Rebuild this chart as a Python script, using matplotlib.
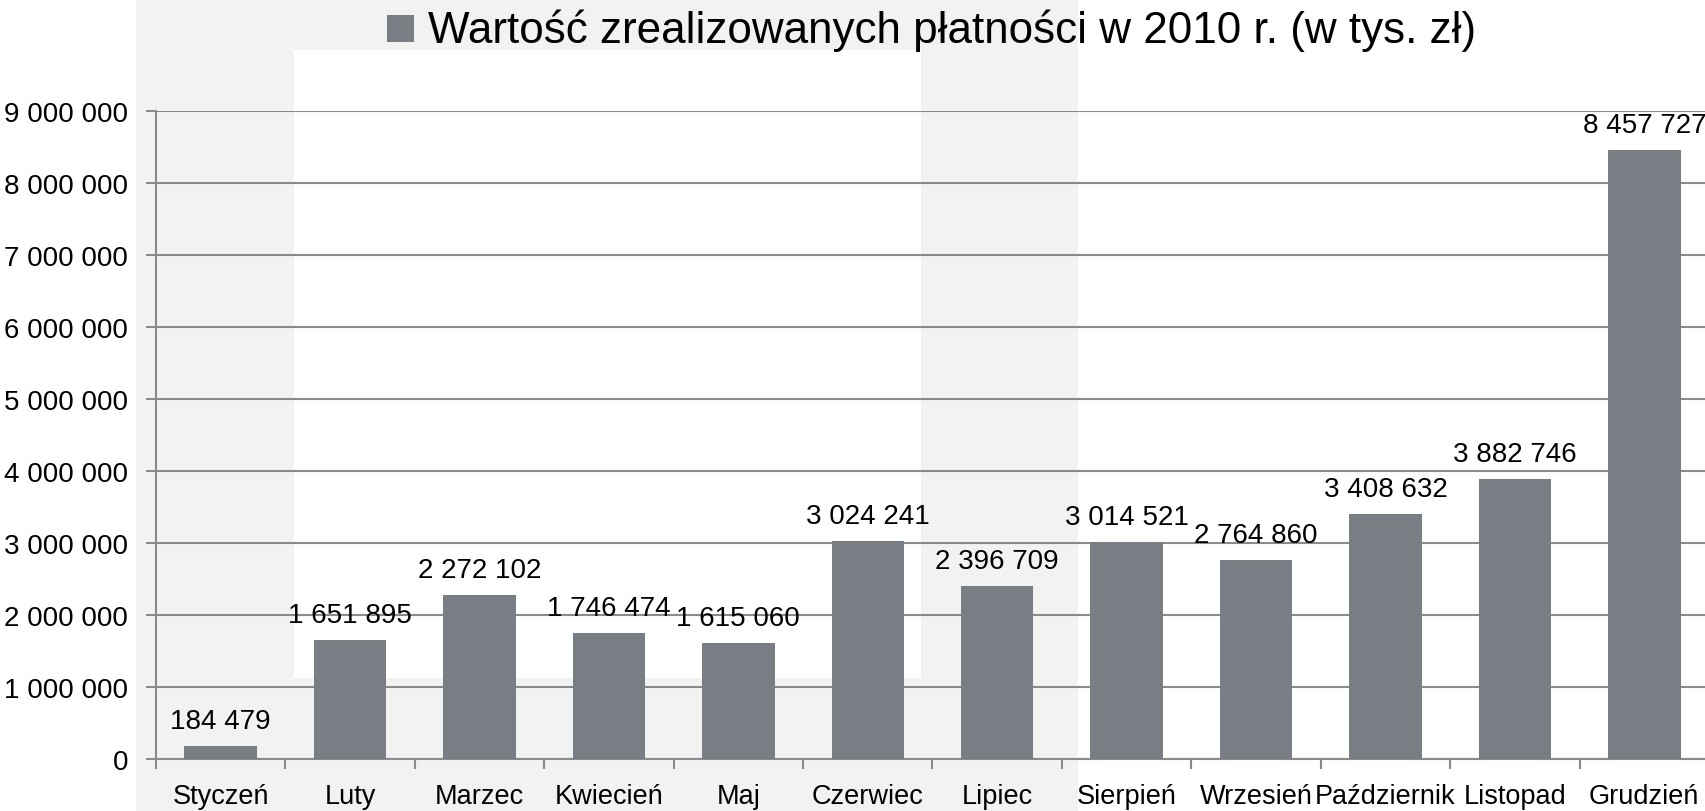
import matplotlib
matplotlib.use("Agg")
import matplotlib.pyplot as plt
from matplotlib.patches import Rectangle
import numpy as np

months = ["Styczeń", "Luty", "Marzec", "Kwiecień", "Maj", "Czerwiec", "Lipiec",
          "Sierpień", "Wrzesień", "Październik", "Listopad", "Grudzień"]
values = [184479, 1651895, 2272102, 1746474, 1615060, 3024241, 2396709,
          3014521, 2764860, 3408632, 3882746, 8457727]
yticks = [0, 1000000, 2000000, 3000000, 4000000, 5000000, 6000000, 7000000, 8000000, 9000000]
title = "Wartość zrealizowanych płatności w 2010 r. (w tys. zł)"

W, H = 1706, 812
plt.rcParams['font.family'] = ['Liberation Sans', 'DejaVu Sans']

fig = plt.figure(figsize=(W / 100, H / 100), dpi=100)
fig.patch.set_facecolor("white")


def px_rect(x0, y0, x1, y1, color, z=-10):
    # rectangle given in pixel coords (top-left origin)
    fig.add_artist(Rectangle((x0 / W, 1 - y1 / H), (x1 - x0) / W, (y1 - y0) / H,
                             transform=fig.transFigure, facecolor=color,
                             edgecolor="none", zorder=z))


# odd background blocks from the source document
px_rect(136, 0, 1078, H, "#f2f2f2")
px_rect(294, 51, 921, 679, "white")

left, right, bottom, top = 156, 1709, 760, 112
ax = fig.add_axes([left / W, 1 - bottom / H, (right - left) / W, (bottom - top) / H])
ax.set_facecolor("none")

x = np.arange(len(months))
bar_color = "#797e85"
ax.bar(x, values, width=0.56, color=bar_color, zorder=3)

for xi, v in zip(x, values):
    lab = "{:,}".format(v).replace(",", " ")
    ax.annotate(lab, (xi, v), xytext=(0, 13), textcoords="offset points",
                ha="center", va="baseline", fontsize=20, color="black",
                annotation_clip=False)

ax.set_xlim(-0.5, len(months) - 0.5)
ax.set_ylim(0, 9000000)
ax.set_yticks(yticks)
ax.set_yticklabels(["{:,}".format(t).replace(",", " ") for t in yticks])
ax.set_xticks(np.arange(len(months) + 1) - 0.5, minor=False)
ax.set_xticklabels([])
ax.set_xticks(x, minor=True)
ax.set_xticklabels(months, minor=True)

grid_color = "#8a8a8a"
ax.yaxis.grid(True, color=grid_color, linewidth=1.5, zorder=1)
ax.set_axisbelow(True)
for s in ["top", "right"]:
    ax.spines[s].set_visible(False)
for s in ["left", "bottom"]:
    ax.spines[s].set_color(grid_color)
    ax.spines[s].set_linewidth(1.5)

ax.tick_params(axis="y", length=7, width=1.5, color=grid_color, pad=13, labelsize=20)
ax.tick_params(axis="x", which="major", length=7, width=1.5, color=grid_color)
ax.tick_params(axis="x", which="minor", length=0, pad=17, labelsize=19.5)

# legend-like title with grey square
px_rect(387, 16, 414, 43, bar_color, z=5)
t = fig.text(428 / W, 1 - 43 / H, title, fontsize=30, ha="left", va="baseline", color="black")
fig.canvas.draw()
w = t.get_window_extent().width
t.set_fontsize(30 * 1045 / w)

fig.savefig("out.png", dpi=100)
